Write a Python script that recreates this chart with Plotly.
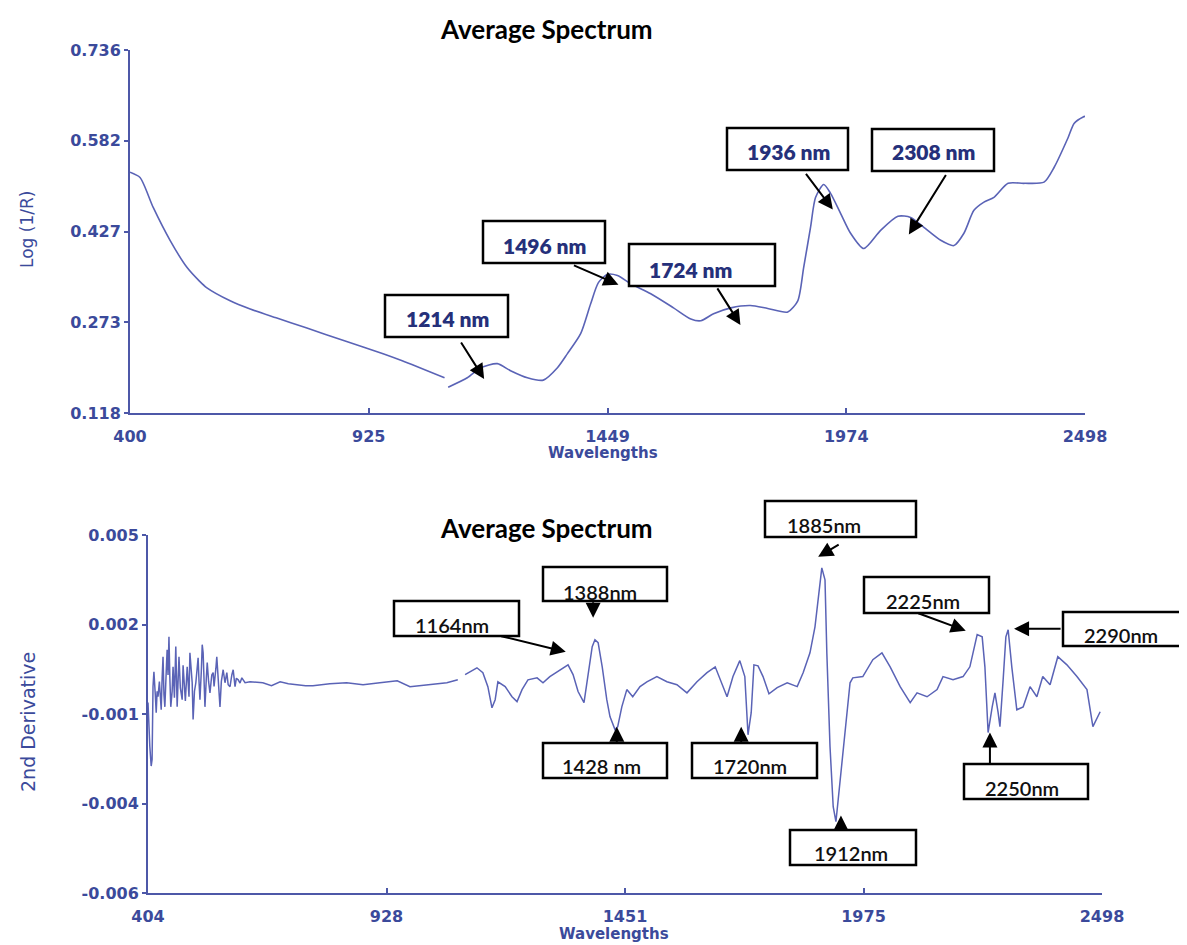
import plotly.graph_objects as go

# ---------------- data ----------------
# Top: Log(1/R) average spectrum (None = detector gap)
top_wl = [400, 422, 451, 488, 525, 552, 569, 620, 664, 721, 787, 871, 956, 998, 1091,
          None,
          1099, 1141, 1170, 1207, 1236, 1273, 1308, 1339, 1361, 1390, 1412, 1429, 1449,
          1471, 1500, 1544, 1594, 1632, 1654, 1682, 1720, 1763, 1801, 1845, 1867, 1880,
          1895, 1906, 1924, 1939, 1961, 1983, 2012, 2049, 2087, 2115, 2144, 2181, 2210,
          2232, 2254, 2276, 2298, 2329, 2364, 2408, 2430, 2461, 2474, 2494, 2498]
top_val = [0.528, 0.519, 0.468, 0.412, 0.366, 0.343, 0.331, 0.309, 0.295, 0.280, 0.263,
           0.241, 0.219, 0.207, 0.178,
           None,
           0.162, 0.178, 0.195, 0.202, 0.190, 0.178, 0.174, 0.195, 0.219, 0.253, 0.304,
           0.340, 0.354, 0.352, 0.338, 0.321, 0.297, 0.278, 0.275, 0.287, 0.297, 0.301,
           0.296, 0.290, 0.309, 0.366, 0.434, 0.485, 0.507, 0.492, 0.458, 0.424, 0.398,
           0.429, 0.453, 0.451, 0.434, 0.412, 0.403, 0.424, 0.463, 0.477, 0.485, 0.509,
           0.509, 0.511, 0.536, 0.587, 0.611, 0.622, 0.623]

# Bottom: 2nd derivative
bot_wl = [404, 406, 408, 411, 413, 415, 417, 420, 422, 424, 426, 429, 433, 435, 437, 439,
          441, 444, 446, 448, 450, 452, 454, 457, 459, 462, 465, 468,
          472, 475, 479, 481, 483, 486, 490, 492, 494, 496, 499, 501, 503, 506, 509, 512,
          514, 516, 518, 521, 523, 525, 527, 529, 532, 534, 537, 540,
          544, 547, 549, 551, 553, 555, 558, 562, 565, 569, 573, 577, 580, 584, 588, 591,
          595, 598, 602, 606, 610, 617, 628, 656, 675,
          694, 712, 731, 750, 766, 803, 840, 876, 913, 951, 979, 1000, 1023, 1060, 1084,
          None,
          1100, 1126, 1139, 1150, 1159, 1166, 1172, 1188, 1203, 1214, 1225, 1238, 1258,
          1271, 1286, 1308, 1326, 1337, 1348, 1361, 1370, 1379, 1385, 1392, 1401, 1411,
          1418, 1429, 1435, 1444, 1455, 1468, 1484, 1499, 1521, 1543, 1565, 1587, 1609,
          1631, 1649, 1660, 1675, 1688, 1703, 1714, 1721, 1728, 1734, 1743, 1754, 1767,
          1785, 1807, 1829, 1842, 1857, 1868, 1875, 1883, 1890, 1894, 1901, 1908, 1914,
          1923, 1934, 1945, 1951, 1973, 1995, 2015, 2033, 2055, 2077, 2092, 2114, 2136,
          2149, 2171, 2193, 2208, 2224, 2235, 2241, 2248, 2257, 2263, 2270, 2274, 2281,
          2287, 2292, 2300, 2311, 2325, 2340, 2355, 2368, 2384, 2401, 2421, 2443, 2465,
          2478, 2494]
bot_val = [-0.55e-3, -1.40e-3, -1.90e-3, -2.50e-3, -2.30e-3, -0.06e-3, 0.40e-3, -0.30e-3,
           -0.86e-3, -0.20e-3, -0.37e-3, 0.10e-3, -0.77e-3, 0.20e-3,
           0.86e-3, -0.30e-3, -0.68e-3, 0.40e-3, 1.07e-3, 0.30e-3, 1.47e-3, 0.20e-3,
           -0.68e-3, -0.20e-3, 0.55e-3, -0.40e-3, 1.17e-3, -0.68e-3,
           0.86e-3, -0.10e-3, -0.46e-3, 0.60e-3, 0.25e-3, -0.50e-3, 0.55e-3, 0.10e-3,
           -0.37e-3, 0.98e-3, 0.30e-3, 0.06e-3, -1.07e-3, -0.20e-3, 0.06e-3, 0.50e-3,
           0.83e-3, 0.10e-3, -0.46e-3, 0.40e-3, 1.23e-3, 0.98e-3, 0.20e-3, -0.68e-3,
           0.20e-3, 0.68e-3, 0.10e-3, -0.25e-3,
           0.30e-3, 0.37e-3, -0.05e-3, 0.15e-3, 0.50e-3, 0.86e-3, 0.20e-3, -0.68e-3,
           0.10e-3, 0.46e-3, 0.06e-3, 0.37e-3, 0.00, -0.06e-3, 0.30e-3, 0.46e-3,
           -0.06e-3, 0.20e-3, 0.15e-3, 0.05e-3, 0.21e-3, 0.06e-3, 0.09e-3, 0.06e-3,
           -0.03e-3,
           0.09e-3, 0.03e-3, 0.0, -0.03e-3, -0.03e-3, 0.03e-3, 0.06e-3, 0.0, 0.06e-3,
           0.12e-3, -0.06e-3, -0.03e-3, 0.0, 0.06e-3, 0.15e-3,
           None,
           0.31e-3, 0.52e-3, 0.37e-3, -0.06e-3, -0.71e-3, -0.46e-3, 0.09e-3, -0.06e-3,
           -0.37e-3, -0.52e-3, -0.15e-3, 0.15e-3, 0.21e-3, 0.06e-3, 0.25e-3, 0.46e-3,
           0.61e-3, 0.31e-3, -0.21e-3, -0.55e-3, 0.37e-3, 1.17e-3, 1.38e-3, 1.29e-3,
           0.55e-3, -0.46e-3, -0.98e-3, -1.38e-3, -1.29e-3, -0.68e-3, -0.15e-3, -0.37e-3,
           -0.06e-3, 0.09e-3, 0.25e-3, 0.09e-3, 0.0, -0.25e-3, 0.09e-3, 0.37e-3, 0.55e-3,
           0.15e-3, -0.37e-3, 0.25e-3, 0.74e-3, 0.25e-3, -1.54e-3, -0.86e-3, 0.61e-3,
           0.58e-3, 0.25e-3, -0.28e-3, -0.09e-3, 0.06e-3, -0.06e-3, 0.37e-3, 0.98e-3,
           1.78e-3, 2.70e-3, 3.59e-3, 3.22e-3, 0.98e-3, -1.90e-3, -3.75e-3, -4.21e-3,
           -2.92e-3, -1.38e-3, 0.06e-3, 0.21e-3, 0.25e-3, 0.77e-3, 0.98e-3, 0.55e-3,
           -0.06e-3, -0.55e-3, -0.25e-3, -0.37e-3, -0.15e-3, 0.25e-3, 0.15e-3, 0.25e-3,
           0.55e-3, 1.54e-3, 1.47e-3, 0.55e-3, -1.47e-3, -0.68e-3, -0.25e-3, -0.86e-3,
           -1.29e-3, 0.15e-3, 1.47e-3, 1.69e-3, 0.55e-3, -0.77e-3, -0.68e-3, -0.06e-3,
           -0.37e-3, 0.25e-3, 0.0, 0.86e-3, 0.61e-3, 0.25e-3, -0.15e-3, -1.29e-3,
           -0.83e-3]

# Axis ticks
top_xticks = [400, 924.5, 1449, 1973.5, 2498]
top_xlabels = ["400", "925", "1449", "1974", "2498"]
top_yticks = [0.118, 0.2725, 0.427, 0.5815, 0.736]
top_ylabels = ["0.118", "0.273", "0.427", "0.582", "0.736"]
bot_xticks = [404, 927.5, 1451, 1974.5, 2498]
bot_xlabels = ["404", "928", "1451", "1975", "2498"]
bot_yticks = [-0.0064, -0.00365, -0.0009, 0.00185, 0.0046]
bot_ylabels = ["-0.006", "-0.004", "-0.001", "0.002", "0.005"]

# Annotated peaks: label, arrow tip (wavelength, value)
top_labels = ["1214 nm", "1496 nm", "1724 nm", "1936 nm", "2308 nm"]
top_tip_wl = [1178, 1473, 1741, 1944, 2111]
top_tip_val = [0.176, 0.3365, 0.268, 0.4646, 0.422]
bot_labels = ["1164nm", "1388nm", "1428 nm", "1720nm", "1885nm", "1912nm",
              "2225nm", "2250nm", "2290nm"]
bot_tip_wl = [1321, 1381, 1433, 1706, 1875, 1925, 2199, 2252, 2305]
bot_tip_val = [1.01e-3, 2.06e-3, -1.29e-3, -1.29e-3, 3.93e-3, -4.02e-3, 1.66e-3,
               -1.47e-3, 1.72e-3]

# ---------------- layout / styling ----------------
OFF = 8                      # page body margin of the html page
W, H = 1187 - OFF, 945 - OFF
LINE = "#5a63b6"
AXIS = "#4d58a8"
TXT = "#3b4a9b"


def fx(p):
    return (p - OFF) / W


def fy(p):
    return 1 - (p - OFF) / H


# box pixel geometry (x0, y0, x1, y1) and text centre (cx, cy), arrow tail offsets
top_boxes = [(385, 295, 508, 337), (483, 221, 605, 263), (629, 244, 775, 286),
             (727, 128, 848, 170), (872, 129, 994, 171)]
top_text_pos = [(447, 318), (544, 245), (690, 269), (788, 151), (933, 151)]
top_arrow_off = [(-24, -38), (-46, -20), (-24, -38), (-28, -37), (38, -61)]

bot_boxes = [(394, 601, 519, 636), (543, 567, 667, 601), (543, 743, 667, 778),
             (692, 743, 817, 778), (765, 501, 916, 537), (790, 830, 916, 865),
             (864, 577, 989, 613), (964, 764, 1088, 799), (1063, 612, 1184, 646)]
bot_text_pos = [(452, 625), (600, 592), (602, 766), (750, 766), (824, 525),
                (851, 853), (923, 601), (1022, 788), (1121, 635)]
bot_arrow_off = [(-66, -16), (0, -17), (0, 17), (0, 17), (22, -13), (0, 15),
                 (-49, -18), (0, 32), (48, 0)]

fig = go.Figure()
fig.add_trace(go.Scatter(x=top_wl, y=top_val, mode="lines", connectgaps=False,
                         line=dict(color=LINE, width=1.6, shape="spline", smoothing=0.7),
                         xaxis="x", yaxis="y", hoverinfo="skip"))
fig.add_trace(go.Scatter(x=bot_wl, y=bot_val, mode="lines", connectgaps=False,
                         line=dict(color=LINE, width=1.5),
                         xaxis="x2", yaxis="y2", hoverinfo="skip"))

tickfont = dict(family="DejaVu Sans", size=16, color=TXT, weight="bold")
common_x = dict(showline=True, linecolor=AXIS, linewidth=2, ticks="inside", ticklen=5,
                tickwidth=2, tickcolor=AXIS, showgrid=False, zeroline=False,
                tickfont=tickfont, ticklabelstandoff=8, automargin=False)
common_y = dict(showline=True, linecolor=AXIS, linewidth=2, ticks="outside", ticklen=4,
                tickwidth=2, tickcolor=AXIS, showgrid=False, zeroline=False,
                tickfont=tickfont, automargin=False)

fig.update_layout(
    template="none",
    width=W, height=H, margin=dict(l=0, r=0, t=0, b=0, pad=0, autoexpand=False),
    paper_bgcolor="white", plot_bgcolor="white", showlegend=False,
    xaxis=dict(domain=[fx(130), fx(1085)], range=[400, 2498], tickvals=top_xticks,
               ticktext=top_xlabels, anchor="y", **common_x),
    yaxis=dict(domain=[fy(413), fy(50)], range=[0.118, 0.736], tickvals=top_yticks,
               ticktext=top_ylabels, anchor="x", **common_y),
    xaxis2=dict(domain=[fx(148), fx(1102)], range=[404, 2498], tickvals=bot_xticks,
                ticktext=bot_xlabels, anchor="y2", **common_x),
    yaxis2=dict(domain=[fy(893), fy(535)], range=[-0.0064, 0.0046], tickvals=bot_yticks,
                ticktext=bot_ylabels, anchor="x2", **common_y),
)

shapes = []
ann = []

# titles and axis titles
for cy in (29, 528):
    ann.append(dict(text="Average Spectrum", x=fx(546), y=fy(cy), xref="paper", yref="paper",
                    showarrow=False, xanchor="center", yanchor="middle",
                    font=dict(family="Lato", size=26, color="black", weight="bold")))
for cx, cy in ((603, 453), (614, 934)):
    ann.append(dict(text="Wavelengths", x=fx(cx), y=fy(cy), xref="paper", yref="paper",
                    showarrow=False, xanchor="center", yanchor="middle",
                    font=dict(family="DejaVu Sans", size=15, color=TXT, weight="bold")))
ann.append(dict(text="Log (1/R)", x=fx(27), y=fy(229), xref="paper", yref="paper",
                showarrow=False, textangle=-90, xanchor="center", yanchor="middle",
                font=dict(family="DejaVu Sans", size=17, color=TXT)))
ann.append(dict(text="2nd Derivative", x=fx(28), y=fy(722), xref="paper", yref="paper",
                showarrow=False, textangle=-90, xanchor="center", yanchor="middle",
                font=dict(family="DejaVu Sans", size=19, color=TXT)))


def add_boxes(labels, boxes, tpos, font):
    for lab, (x0, y0, x1, y1), (cx, cy) in zip(labels, boxes, tpos):
        shapes.append(dict(type="rect", xref="paper", yref="paper", x0=fx(x0), x1=fx(x1),
                           y0=fy(y1), y1=fy(y0), line=dict(color="black", width=2.5),
                           fillcolor="white", layer="above"))
        ann.append(dict(text=lab, x=fx(cx), y=fy(cy), xref="paper", yref="paper",
                        showarrow=False, xanchor="center", yanchor="middle", font=font))


def add_arrows(wls, vals, offs, xr, yr):
    for w, v, (ax, ay) in zip(wls, vals, offs):
        ann.append(dict(text="", x=w, y=v, xref=xr, yref=yr, ax=ax, ay=ay,
                        showarrow=True, arrowhead=2, arrowsize=1.5, arrowwidth=2,
                        arrowcolor="black", standoff=0, startstandoff=0))


add_boxes(top_labels, top_boxes, top_text_pos,
          dict(family="Lato", size=21, color="#25307a", weight=800))
add_boxes(bot_labels, bot_boxes, bot_text_pos,
          dict(family="Lato", size=20, color="#111111", weight=600))
add_arrows(top_tip_wl, top_tip_val, top_arrow_off, "x", "y")
add_arrows(bot_tip_wl, bot_tip_val, bot_arrow_off, "x2", "y2")

fig.update_layout(shapes=shapes, annotations=ann)
fig.write_html("out.html")
